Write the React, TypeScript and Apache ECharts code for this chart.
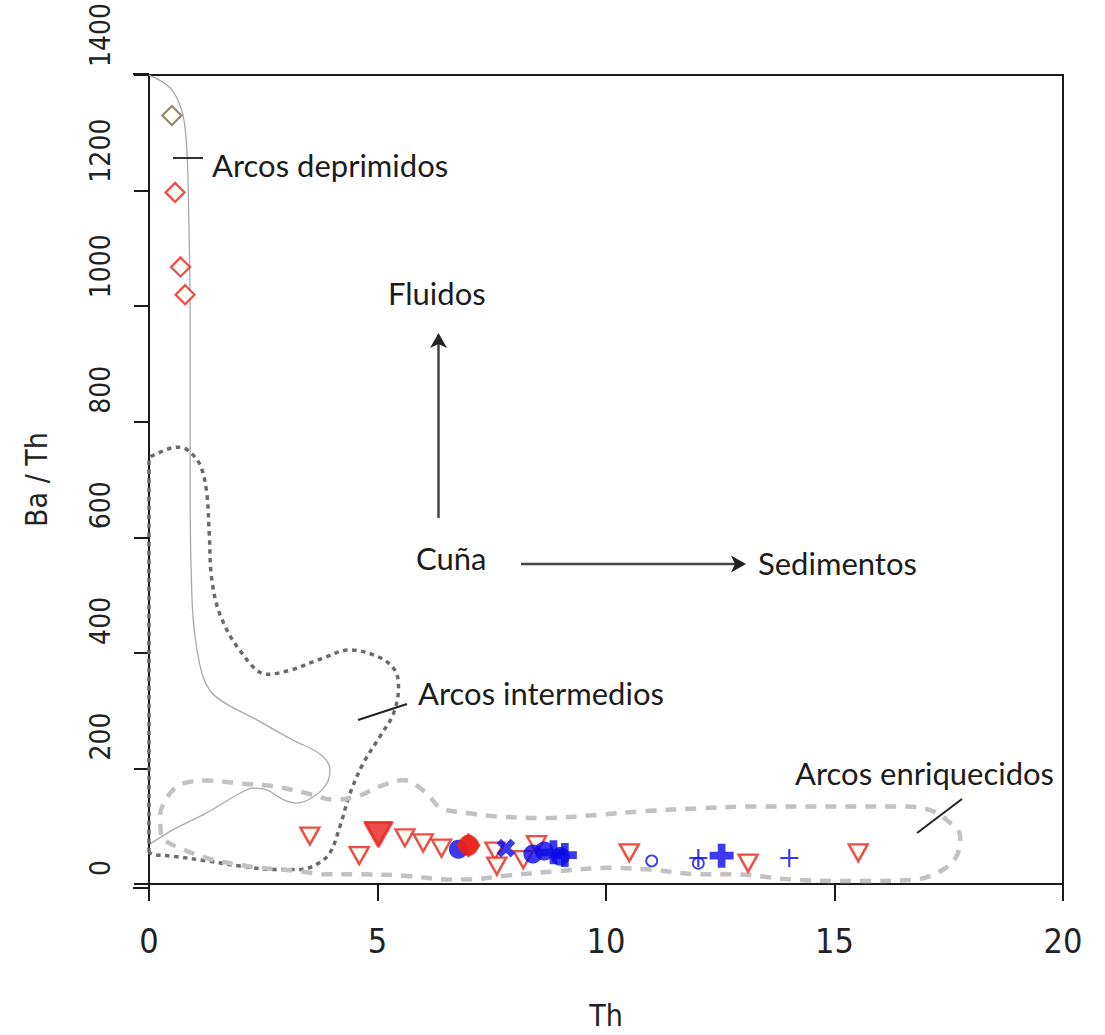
import React, { useEffect, useRef } from "react";
import * as echarts from "echarts";

// ---- axes ----
const xMin = 0;
const xMax = 20;
const xStep = 5;
const yMin = 0;
const yMax = 1400;
const yStep = 200;

// ---- field outlines (Th, Ba/Th) ----
const deprimidosLine = [
  [0, 1400], [0.46, 1378], [0.72, 1338], [0.82, 1281], [0.86, 1195], [0.9, 977],
  [0.9, 667], [0.94, 495], [1.01, 427], [1.19, 357], [1.48, 323], [2.36, 284],
  [3.15, 249], [3.74, 225], [3.96, 198], [3.89, 174], [3.6, 151], [3.23, 140],
  [2.94, 146], [2.58, 163], [2.28, 166], [1.99, 157], [1.26, 123], [0.53, 94], [0.02, 69],
];

const intermediosLine = [
  [0, 55], [0, 735], [0.09, 742], [0.64, 756], [0.86, 750], [1.12, 725], [1.26, 679],
  [1.32, 604], [1.37, 530], [1.55, 467], [1.99, 404], [2.58, 363], [3.09, 370],
  [3.74, 389], [4.4, 405], [5.05, 392], [5.38, 370], [5.46, 341], [5.35, 295],
  [5.05, 255], [4.69, 209], [4.4, 157], [4.18, 100], [3.96, 54], [3.67, 34],
  [3.3, 25], [2.72, 25], [1.99, 31], [1.26, 40], [0.53, 48], [0.09, 51], [0, 55],
];

const enriquecidosLine = [
  [0.26, 85], [0.24, 117], [0.46, 157], [0.75, 174], [1.26, 179], [1.99, 174],
  [2.72, 169], [3.45, 157], [4.03, 146], [4.54, 151], [5.05, 169], [5.56, 180],
  [6.08, 157], [6.37, 132], [6.95, 123], [7.61, 117], [8.63, 114], [9.87, 120],
  [10.82, 126], [12.06, 131], [13.15, 134], [16.58, 134], [17.09, 128], [17.45, 111],
  [17.75, 83], [17.67, 48], [17.38, 25], [16.8, 8], [15.63, 5], [14.17, 7],
  [12.71, 17], [12.06, 17], [10.96, 25], [10.09, 28], [8.92, 22], [7.75, 14],
  [7.02, 8], [6.51, 8], [5.64, 14], [4.54, 17], [3.81, 17], [3.3, 22], [2.14, 31],
  [1.26, 45], [0.68, 62], [0.31, 77], [0.26, 85],
];

// ---- samples ----
const brownDiamondTh = [0.5];
const brownDiamondVal = [1330];
const redDiamondTh = [0.57, 0.69, 0.79];
const redDiamondVal = [1197, 1068, 1020];
const openTriTh = [3.52, 4.6, 5.6, 6.0, 6.4, 7.57, 7.61, 8.19, 8.48, 10.51, 13.11, 15.52];
const openTriVal = [83, 49, 80, 71, 62, 57, 31, 42, 68, 54, 36, 54];
const filledTriTh = [5.02];
const filledTriVal = [86];
const redBlobTh = [6.99];
const redBlobVal = [67];
const blueDotTh = [6.77, 8.4, 8.65, 9.0];
const blueDotVal = [60, 52, 57, 48];
const blueXTh = [7.81];
const blueXVal = [62];
const bluePlusBoldTh = [8.85, 9.1, 12.53];
const bluePlusBoldVal = [55, 50, 49];
const bluePlusThinTh = [12.02, 14.01];
const bluePlusThinVal = [45, 45];
const blueRingTh = [11.0, 12.02];
const blueRingVal = [40, 36];

const pairs = (xs: number[], ys: number[]) => xs.map((x, i) => [x, ys[i]]);

const RED = "#e8201a";
const BLUE = "#0a0ae8";
const PLUS_BOLD = "path://M34,0H66V34H100V66H66V100H34V66H0V34H34Z";
const PLUS_THIN = "path://M44,0H56V44H100V56H56V100H44V56H0V44H44Z";
const ANN_FONT = "Lato, 'Open Sans', sans-serif";
const AXIS_FONT = "'Liberation Sans Narrow', 'DejaVu Sans Condensed', 'Liberation Sans', sans-serif";

export default function App() {
  const ref = useRef<HTMLDivElement>(null);

  useEffect(() => {
    if (!ref.current) return;
    const chart = echarts.init(ref.current, undefined, { renderer: "svg" });

    const curve = (data: number[][], color: string, width: number, type: any, smooth: number) => ({
      type: "line",
      data,
      smooth,
      symbol: "none",
      silent: true,
      lineStyle: { color, width, type, cap: "butt" },
      z: 1,
    });

    const annText = (text: string, x: number, y: number) => ({
      type: "text",
      x,
      y,
      style: { text, fill: "#1c1c1c", font: `31px ${ANN_FONT}`, textVerticalAlign: "middle" },
      z: 10,
    });
    const seg = (x1: number, y1: number, x2: number, y2: number, color = "#222", w = 2) => ({
      type: "line",
      shape: { x1, y1, x2, y2 },
      style: { stroke: color, lineWidth: w },
      z: 10,
    });

    chart.setOption({
      animation: false,
      backgroundColor: "#ffffff",
      grid: { left: 149, top: 74, right: 42, bottom: 147, show: true, borderColor: "#1a1a1a", borderWidth: 2 },
      xAxis: {
        type: "value",
        min: xMin,
        max: xMax,
        interval: xStep,
        name: "Th",
        nameLocation: "middle",
        nameGap: 116,
        nameTextStyle: { fontSize: 30, color: "#222", fontFamily: AXIS_FONT },
        axisLine: { show: true, lineStyle: { color: "#1a1a1a", width: 2 } },
        axisTick: { show: true, inside: false, length: 17, lineStyle: { color: "#1a1a1a", width: 2 } },
        axisLabel: { fontSize: 34, color: "#222", margin: 40, fontFamily: AXIS_FONT, formatter: (v: number) => String(v) },
        splitLine: { show: false },
      },
      yAxis: {
        type: "value",
        min: yMin,
        max: yMax,
        interval: yStep,
        name: "Ba / Th",
        nameLocation: "middle",
        nameRotate: 90,
        nameGap: 98,
        nameTextStyle: { fontSize: 30, color: "#222", fontFamily: AXIS_FONT },
        axisLine: { show: true, lineStyle: { color: "#1a1a1a", width: 2 } },
        axisTick: { show: true, inside: false, length: 15, lineStyle: { color: "#1a1a1a", width: 2 } },
        axisLabel: {
          fontSize: 28,
          color: "#222",
          margin: 35,
          rotate: 90,
          align: "left",
          padding: [0, 0, 0, 8],
          fontFamily: AXIS_FONT,
          formatter: (v: number) => String(v),
        },
        splitLine: { show: false },
      },
      graphic: [
        seg(133, 74, 149, 74, "#1a1a1a", 2),
        seg(133, 888, 149, 888, "#1a1a1a", 2),
        annText("Arcos deprimidos", 212, 165),
        seg(173, 158, 203, 158, "#333", 2),
        annText("Fluidos", 388, 293),
        seg(438.5, 518, 438.5, 342, "#444", 2.5),
        { type: "polygon", shape: { points: [[438.5, 333], [430, 348], [438.5, 344], [447, 348]] }, style: { fill: "#222" }, z: 10 },
        annText("Cuña", 416, 558),
        seg(521, 564, 737, 564, "#444", 2.5),
        { type: "polygon", shape: { points: [[746, 564], [731, 555.5], [735, 564], [731, 572.5]] }, style: { fill: "#222" }, z: 10 },
        annText("Sedimentos", 758, 563),
        annText("Arcos intermedios", 418, 693),
        seg(358, 720, 407, 704, "#222", 2),
        annText("Arcos enriquecidos", 795, 773),
        seg(917, 833, 962, 799, "#222", 2),
      ],
      series: [
        curve(deprimidosLine, "#a9a9a9", 1.3, "solid", 0.35),
        curve(intermediosLine, "#6a6a6a", 3.5, [4.5, 4.5], 0.35),
        curve(enriquecidosLine, "#c2c2c2", 4.5, [11, 9], 0.35),
        {
          type: "scatter",
          data: pairs(brownDiamondTh, brownDiamondVal),
          symbol: "diamond",
          symbolSize: [19, 19],
          itemStyle: { color: "#fffdf5", borderColor: "#7d6a45", borderWidth: 2.2 },
          z: 3,
        },
        {
          type: "scatter",
          data: pairs(redDiamondTh, redDiamondVal),
          symbol: "diamond",
          symbolSize: [19, 19],
          itemStyle: { color: "#fffaf2", borderColor: RED, borderWidth: 2.2 },
          z: 3,
        },
        {
          type: "scatter",
          data: pairs(openTriTh, openTriVal),
          symbol: "triangle",
          symbolRotate: 180,
          symbolSize: [19, 17],
          itemStyle: { color: "#fffbee", borderColor: RED, borderWidth: 2.4 },
          z: 3,
        },
        {
          type: "scatter",
          data: pairs(blueDotTh, blueDotVal),
          symbol: "circle",
          symbolSize: 19,
          itemStyle: { color: BLUE },
          z: 4,
        },
        {
          type: "scatter",
          data: pairs(filledTriTh, filledTriVal),
          symbol: "triangle",
          symbolRotate: 180,
          symbolSize: [27, 24],
          itemStyle: { color: RED, borderColor: RED, borderWidth: 3, borderJoin: "round" },
          z: 4,
        },
        {
          type: "scatter",
          data: pairs(redBlobTh, redBlobVal),
          symbol: "circle",
          symbolSize: 21,
          itemStyle: { color: RED },
          z: 5,
        },
        {
          type: "scatter",
          data: pairs(redBlobTh, redBlobVal),
          symbol: "diamond",
          symbolSize: 25,
          itemStyle: { color: RED },
          z: 5,
        },
        {
          type: "scatter",
          data: pairs(blueXTh, blueXVal),
          symbol: PLUS_BOLD,
          symbolRotate: 45,
          symbolSize: 20,
          itemStyle: { color: BLUE },
          z: 5,
        },
        {
          type: "scatter",
          data: pairs(bluePlusBoldTh, bluePlusBoldVal),
          symbol: PLUS_BOLD,
          symbolSize: 24,
          itemStyle: { color: BLUE },
          z: 5,
        },
        {
          type: "scatter",
          data: pairs(bluePlusThinTh, bluePlusThinVal),
          symbol: PLUS_THIN,
          symbolSize: 18,
          itemStyle: { color: BLUE },
          z: 5,
        },
        {
          type: "scatter",
          data: pairs(blueRingTh, blueRingVal),
          symbol: "circle",
          symbolSize: 11,
          itemStyle: { color: "rgba(255,255,255,0)", borderColor: BLUE, borderWidth: 1.8 },
          z: 5,
        },
      ],
    });

    return () => chart.dispose();
  }, []);

  return (
    <div
      ref={ref}
      style={{ position: "absolute", left: 0, top: 0, width: 1105, height: 1035, background: "#fff" }}
    />
  );
}
